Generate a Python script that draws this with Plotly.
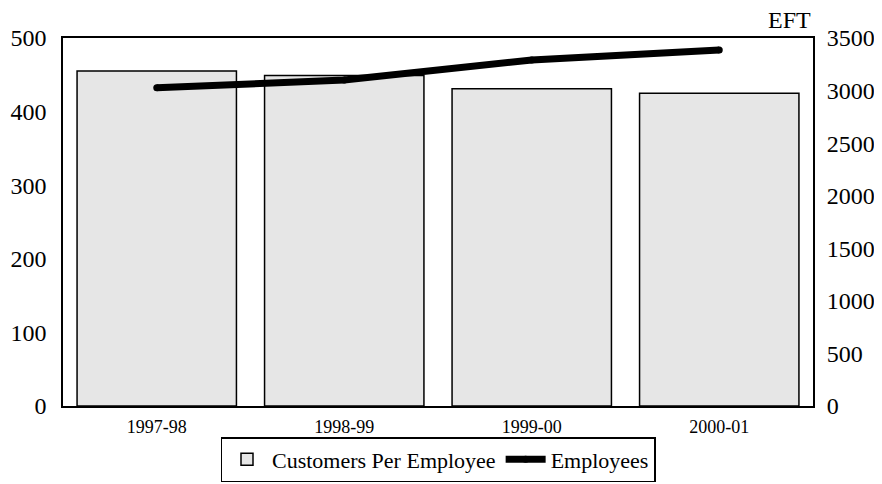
import plotly.graph_objects as go

categories = ["1997-98", "1998-99", "1999-00", "2000-01"]
customers_per_employee = [455, 449, 431, 425]
employees = [3027, 3100, 3291, 3386]
left_ticks = [0, 100, 200, 300, 400, 500]
right_ticks = [0, 500, 1000, 1500, 2000, 2500, 3000, 3500]

FONT = "Liberation Serif"

fig = go.Figure()
fig.add_trace(go.Bar(
    x=categories, y=customers_per_employee, name="Customers Per Employee",
    marker=dict(color="#e6e6e6", line=dict(color="black", width=1.5)),
    yaxis="y",
))
fig.add_trace(go.Scatter(
    x=categories, y=employees, name="Employees", mode="lines+markers",
    line=dict(color="black", width=7),
    marker=dict(color="black", size=7),
    yaxis="y2",
))

fig.update_layout(
    width=874, height=476,
    margin=dict(l=55, r=69, t=30, b=78),
    paper_bgcolor="white", plot_bgcolor="white",
    font=dict(family=FONT, color="black", size=20),
    bargap=0.15,
    showlegend=True,
    legend=dict(orientation="h", x=0.5, xanchor="center",
                yref="container", y=0.0987, yanchor="top",
                bordercolor="black", borderwidth=1.5,
                font=dict(family=FONT, size=22, color="black"),
                itemwidth=40, tracegroupgap=0),
    xaxis=dict(type="category", showline=True, linecolor="black", linewidth=1.5, mirror=True,
               showgrid=False, ticks="outside", ticklen=4, tickcolor="rgba(0,0,0,0)",
               tickfont=dict(family=FONT, size=18), automargin=False),
    yaxis=dict(range=[0, 500], tickvals=left_ticks, showline=True, linecolor="black",
               linewidth=1.5, mirror=True, showgrid=False, zeroline=False,
               ticks="outside", ticklen=10, tickcolor="rgba(0,0,0,0)",
               tickfont=dict(family=FONT, size=24), automargin=False),
    yaxis2=dict(range=[0, 3500], tickvals=right_ticks, overlaying="y", side="right",
                showgrid=False, zeroline=False, showline=False,
                ticks="outside", ticklen=8, tickcolor="rgba(0,0,0,0)",
                tickfont=dict(family=FONT, size=24), automargin=False),
    annotations=[dict(text="EFT", xref="paper", yref="paper", x=1.0, y=1.0,
                      xanchor="right", yanchor="bottom", showarrow=False,
                      yshift=3, font=dict(family=FONT, size=24))],
)

fig.write_html("out.html")
